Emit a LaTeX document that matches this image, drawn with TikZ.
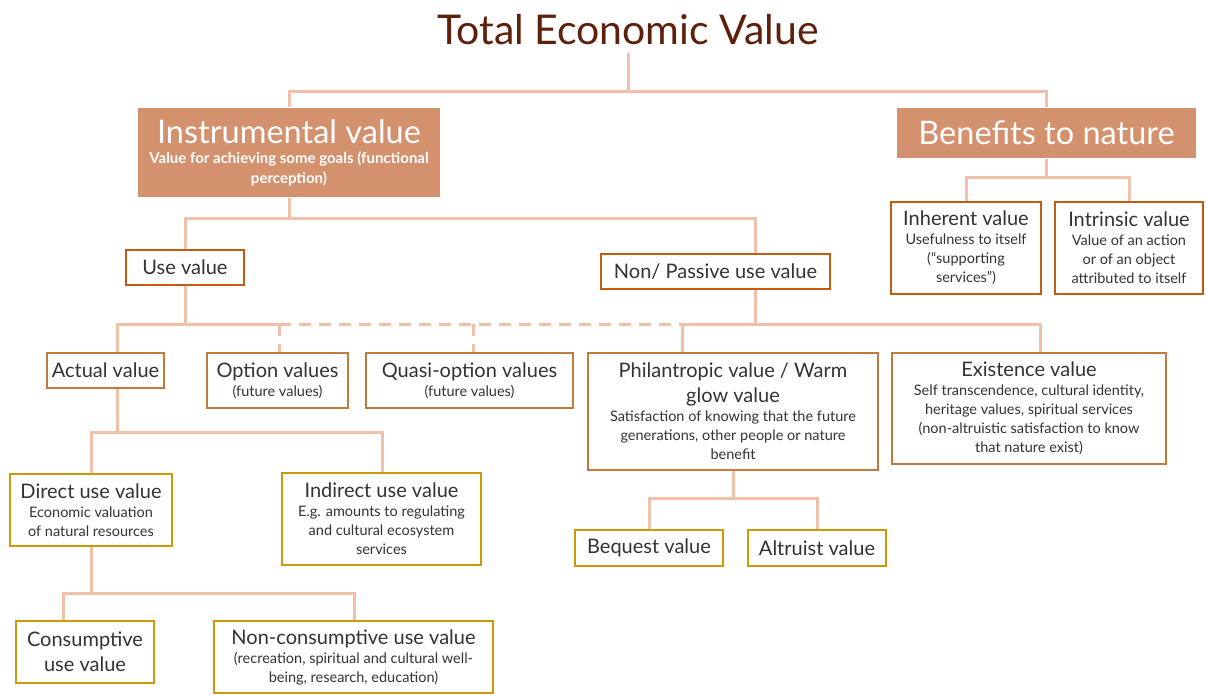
\documentclass[tikz,border=0pt]{standalone}
\usepackage{fontspec}
\setmainfont{Lato}
\definecolor{headfill}{RGB}{212,145,110}
\definecolor{linkcol}{RGB}{240,192,168}
\definecolor{rustcol}{RGB}{197,90,17}
\definecolor{browncol}{RGB}{192,122,62}
\definecolor{goldcol}{RGB}{204,154,6}
\definecolor{titlecol}{RGB}{94,32,10}
\newcommand{\subtxt}{\fontsize{14.5}{19}\selectfont}
\newcommand{\headtxt}{\fontsize{32.5}{36}\selectfont}
\tikzset{
  box/.style      = {shape=rectangle, draw, fill=white, line width=2.5pt,
                     align=flush center, inner sep=0pt, text=black!80,
                     font=\fontsize{20}{25}\selectfont},
  headbox/.style  = {box, draw=none, fill=headfill, text=white},
  rustbox/.style  = {box, draw=rustcol},
  brownbox/.style = {box, draw=browncol},
  goldbox/.style  = {box, draw=goldcol},
  link/.style     = {draw=linkcol, line width=3pt},
  optlink/.style  = {link, dash pattern=on 12pt off 8pt}
}
\begin{document}
\begin{tikzpicture}[x=1pt, y=-1pt]
    \useasboundingbox (0,0) rectangle (1206,695);

    \node [anchor=base, inner sep=0pt, text=titlecol, font=\fontsize{41}{45}\selectfont] (tev) at (628,45) {Total Economic Value};

    \node [headbox, minimum width=302pt, minimum height=89pt, text width=298pt] (instr) at (289,152.5)
        {\headtxt Instrumental value\par\fontsize{15}{20}\selectfont\bfseries Value for achieving some goals (functional\\ perception)\par};
    \node [headbox, minimum width=299pt, minimum height=50pt, text width=290pt] (benef) at (1046.5,133)
        {\headtxt Benefits to nature\par};

    \node [rustbox, minimum width=150pt, minimum height=92pt, text width=146pt] (inher) at (966,248)
        {Inherent value\par\subtxt Usefulness to itself\\ (“supporting\\ services”)\par};
    \node [rustbox, minimum width=148pt, minimum height=92pt, text width=144pt] (intri) at (1129,248)
        {Intrinsic value\par\subtxt Value of an action\\ or of an object\\ attributed to itself\par};
    \node [rustbox, minimum width=118pt, minimum height=35pt, text width=112pt] (usev) at (185,267.5) {Use value};
    \node [rustbox, minimum width=229pt, minimum height=35pt, text width=222pt] (nonp) at (715.5,271.5) {Non/ Passive use value};

    \node [brownbox, minimum width=117pt, minimum height=35pt, text width=113pt] (actual) at (105.5,370.5) {Actual value};
    \node [brownbox, minimum width=141pt, minimum height=55pt, text width=137pt] (option) at (277.5,380.5)
        {Option values\par\subtxt (future values)\par};
    \node [brownbox, minimum width=207pt, minimum height=55pt, text width=200pt] (quasi) at (469.5,380.5)
        {Quasi-option values\par\subtxt (future values)\par};
    \node [brownbox, minimum width=290pt, minimum height=117pt, text width=284pt] (phil) at (733,411.5)
        {Philantropic value / Warm\\ glow value\par\subtxt Satisfaction of knowing that the future\\ generations, other people or nature\\ benefit\par};
    \node [brownbox, minimum width=274pt, minimum height=111pt, text width=270pt] (exist) at (1029,408.5)
        {Existence value\par\subtxt Self transcendence, cultural identity,\\ heritage values, spiritual services\\ (non-altruistic satisfaction to know\\ that nature exist)\par};

    \node [goldbox, minimum width=162pt, minimum height=72pt, text width=158pt] (direct) at (91,510)
        {Direct use value\par\subtxt Economic valuation\\ of natural resources\par};
    \node [goldbox, minimum width=199pt, minimum height=92pt, text width=195pt] (indir) at (381.5,519)
        {Indirect use value\par\subtxt E.g. amounts to regulating\\ and cultural ecosystem\\ services\par};
    \node [goldbox, minimum width=138pt, minimum height=62pt, text width=134pt] (consum) at (85,652)
        {Consumptive\\ use value\par};
    \node [goldbox, minimum width=279pt, minimum height=72pt, text width=275pt] (noncon) at (353.5,657)
        {Non-consumptive use value\par\subtxt (recreation, spiritual and cultural well-\\ being, research, education)\par};
    \node [goldbox, minimum width=148pt, minimum height=36pt, text width=144pt] (beq) at (649,548) {Bequest value};
    \node [goldbox, minimum width=138pt, minimum height=36pt, text width=134pt] (altr) at (817,548) {Altruist value};

    \coordinate (jtop) at (628,92);
    \coordinate (jben) at (1050,178);
    \coordinate (jins) at (290,218);
    \coordinate (jnon) at (755,218);
    \coordinate (jact) at (117,324);
    \coordinate (jopt) at (279,324);
    \coordinate (jqua) at (473,324);
    \coordinate (jphi) at (682,324);
    \coordinate (jexi) at (1040,324);
    \coordinate (jdir) at (91,432);
    \coordinate (jind) at (382,432);
    \coordinate (jcon) at (63,593);
    \coordinate (jnc)  at (354,593);
    \coordinate (jbeq) at (649,498);

    \draw [link] ([yshift=-7pt]tev.south) -- (jtop) -| (instr.north);
    \draw [link] (jtop) -| (benef.north);
    \draw [link] (benef.south) -- (benef.south |- jben);
    \draw [link] (inher.north) |- (jben) -| (intri.north);
    \draw [link] (instr.south) -- (instr.south |- jins);
    \draw [link] (usev.north) |- (jnon) -- (jnon |- nonp.north);
    \draw [link] (usev.south) -- (usev.south |- jact);
    \draw [link] (jact |- actual.north) -- (jact) -- (jopt);
    \draw [optlink] (jopt) -- (jopt |- option.north);
    \draw [optlink] (jopt) -- (jphi);
    \draw [optlink] (jqua) -- (jqua |- quasi.north);
    \draw [link] (jnon |- nonp.south) -- (jnon |- jphi);
    \draw [link] (jphi |- phil.north) -- (jphi) -- (jexi) -- (jexi |- exist.north);
    \draw [link] (jact |- actual.south) -- (jact |- jdir);
    \draw [link] (direct.north) |- (jind) -- (jind |- indir.north);
    \draw [link] (direct.south) -- (direct.south |- jcon);
    \draw [link] (jcon |- consum.north) -- (jcon) -- (jnc) -- (jnc |- noncon.north);
    \draw [link] (phil.south) -- (phil.south |- jbeq);
    \draw [link] (beq.north) |- (jbeq) -| (altr.north);

\end{tikzpicture}
\end{document}
